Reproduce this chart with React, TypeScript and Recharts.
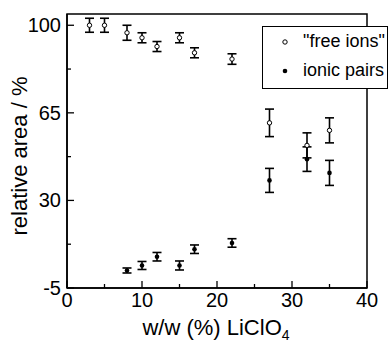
import React from 'react';
import { ScatterChart, Scatter, XAxis, YAxis, ErrorBar, ReferenceArea, Legend, Label } from 'recharts';

const xFree = [3, 5, 8, 10, 12, 15, 17, 22, 27, 32, 35];
const yFree = [100, 100, 97, 95, 91.5, 95, 89, 86.5, 61, 52, 58];
const eFree = [2.8, 2.8, 3, 2, 2, 2, 2, 2.1, 5.5, 5, 5];

const xPairs = [8, 10, 12, 15, 17, 22, 27, 32, 35];
const yPairs = [2, 4, 7.5, 4, 10.5, 13, 38, 46.5, 41];
const ePairs = [1, 1.6, 1.7, 1.8, 1.7, 1.7, 4.8, 4.9, 5];

const xTicks = [0, 5, 10, 15, 20, 25, 30, 35, 40];
const xLabels = [0, 10, 20, 30, 40];
const yTicks = [-5, 12.5, 30, 47.5, 65, 82.5, 100];
const yLabels = [-5, 30, 65, 100];

const freeData = xFree.map((x, i) => ({ x, y: yFree[i], err: eFree[i] }));
const pairsData = xPairs.map((x, i) => ({ x, y: yPairs[i], err: ePairs[i] }));

const FONT = '"Liberation Sans", Arial, sans-serif';
const AXIS_X = 67;
const AXIS_Y = 288;

const XTick = (props: any) => {
  const { x, payload } = props;
  const v = payload.value;
  const major = xLabels.includes(v);
  return (
    <g>
      <line x1={x} y1={AXIS_Y} x2={x} y2={AXIS_Y - (major ? 7 : 4)} stroke="#000" strokeWidth={1.3} />
      {major && (
        <text x={x} y={AXIS_Y + 19} textAnchor="middle" fontSize={20} fontFamily={FONT} fill="#000">
          {v}
        </text>
      )}
    </g>
  );
};

const YTick = (props: any) => {
  const { y, payload } = props;
  const v = payload.value;
  const major = yLabels.includes(v);
  return (
    <g>
      <line x1={AXIS_X} y1={y} x2={AXIS_X + (major ? 7 : 4)} y2={y} stroke="#000" strokeWidth={1.3} />
      {major && (
        <text x={AXIS_X - 6} y={y + 7} textAnchor="end" fontSize={20} fontFamily={FONT} fill="#000">
          {v}
        </text>
      )}
    </g>
  );
};

const OpenDot = (p: any) => (
  <circle cx={p.cx} cy={p.cy} r={2.2} fill="#fff" stroke="#000" strokeWidth={1} />
);
const FilledDot = (p: any) => <circle cx={p.cx} cy={p.cy} r={2.3} fill="#000" />;

const LegendBox = () => (
  <div
    style={{
      width: 126,
      height: 63,
      boxSizing: 'border-box',
      border: '1.5px solid #000',
      background: '#fff',
      fontFamily: FONT,
      fontSize: 18,
      color: '#000',
      position: 'relative',
    }}
  >
    <svg width={12} height={60} style={{ position: 'absolute', left: 16, top: 0 }}>
      <circle cx={6} cy={15} r={2.2} fill="#fff" stroke="#000" strokeWidth={1} />
      <circle cx={6} cy={44} r={2.3} fill="#000" />
    </svg>
    <div style={{ position: 'absolute', left: 40, top: 4, whiteSpace: 'nowrap', lineHeight: '20px' }}>"free ions"</div>
    <div style={{ position: 'absolute', left: 40, top: 33, whiteSpace: 'nowrap', lineHeight: '20px' }}>ionic pairs</div>
  </div>
);

export default function App() {
  return (
    <div style={{ position: 'absolute', left: 0, top: 0 }}>
      <ScatterChart width={391} height={348} margin={{ top: 14, right: 24, left: 0, bottom: 0 }}>
        <ReferenceArea x1={0} x2={40} y1={-5} y2={104.5} fill="none" stroke="#000" strokeWidth={1.5} ifOverflow="visible" />
        <XAxis
          type="number"
          dataKey="x"
          domain={[0, 40]}
          ticks={xTicks}
          interval={0}
          height={60}
          tickSize={0}
          tickMargin={0}
          tickLine={false}
          axisLine={{ stroke: '#000', strokeWidth: 1.5 }}
          tick={<XTick />}
        >
          <Label
            content={() => (
              <text x={216} y={335} textAnchor="middle" fontSize={22} fontFamily={FONT} fill="#000">
                w/w (%) LiClO<tspan fontSize={14} dy={5}>4</tspan>
              </text>
            )}
          />
        </XAxis>
        <YAxis
          type="number"
          dataKey="y"
          domain={[-5, 104.5]}
          ticks={yTicks}
          interval={0}
          width={67}
          tickSize={0}
          tickMargin={0}
          tickLine={false}
          allowDataOverflow
          axisLine={{ stroke: '#000', strokeWidth: 1.5 }}
          tick={<YTick />}
        >
          <Label
            content={() => (
              <text x={27} y={156} transform="rotate(-90 27 156)" textAnchor="middle" fontSize={22} fontFamily={FONT} fill="#000">
                relative area / %
              </text>
            )}
          />
        </YAxis>
        <Scatter data={freeData} isAnimationActive={false} shape={<OpenDot />}>
          <ErrorBar dataKey="err" direction="y" width={4.5} stroke="#000" strokeWidth={1.6} />
        </Scatter>
        <Scatter data={pairsData} isAnimationActive={false} shape={<FilledDot />}>
          <ErrorBar dataKey="err" direction="y" width={4.5} stroke="#000" strokeWidth={1.6} />
        </Scatter>
        <Legend
          layout="horizontal"
          verticalAlign="middle"
          align="center"
          content={() => <LegendBox />}
          wrapperStyle={{ position: 'absolute', left: 262, top: 26, width: 126, height: 63 }}
        />
      </ScatterChart>
    </div>
  );
}
